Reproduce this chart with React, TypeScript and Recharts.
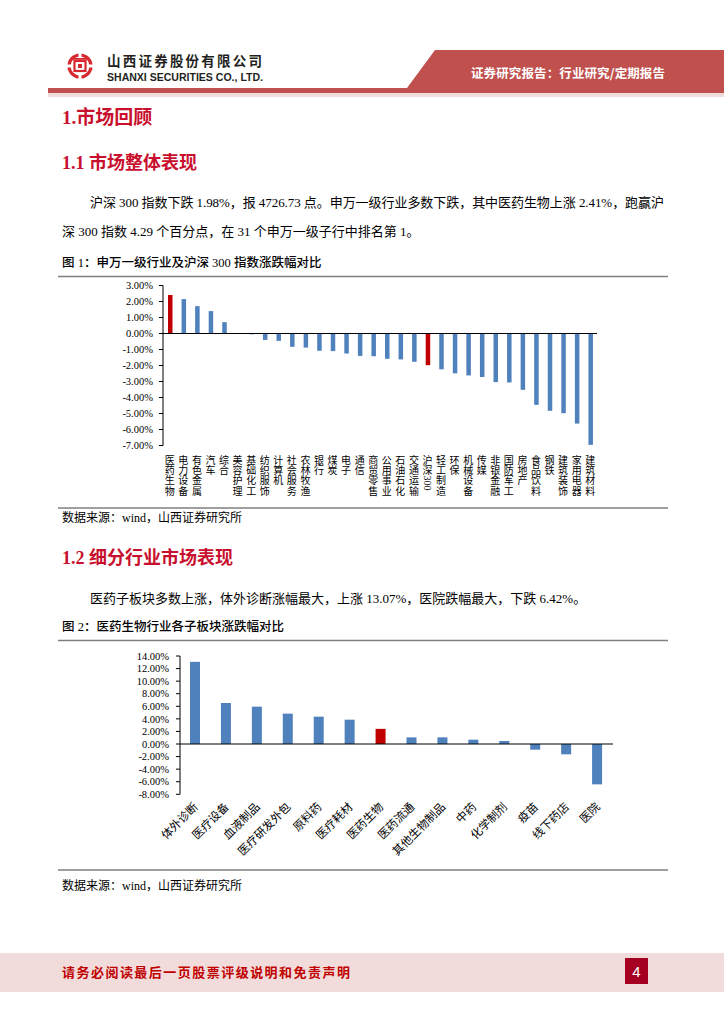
import React from 'react';
import { BarChart, Bar, XAxis, YAxis, Cell, ReferenceLine } from 'recharts';

// 图1：申万一级行业及沪深300指数涨跌幅（%）
const industryNames = [
  '医药生物', '电力设备', '有色金属', '汽车', '综合', '美容护理', '基础化工', '纺织服饰',
  '计算机', '社会服务', '农林牧渔', '银行', '煤炭', '电子', '通信', '商贸零售',
  '公用事业', '石油石化', '交通运输', '沪深300', '轻工制造', '环保', '机械设备', '传媒',
  '非银金融', '国防军工', '房地产', '食品饮料', '钢铁', '建筑装饰', '家用电器', '建筑材料',
];
const industryChange = [
  2.41, 2.15, 1.71, 1.4, 0.71, 0.02, -0.05, -0.4,
  -0.46, -0.83, -0.88, -1.08, -1.1, -1.25, -1.4, -1.42,
  -1.58, -1.62, -1.77, -1.98, -2.24, -2.49, -2.62, -2.72,
  -3.04, -3.06, -3.52, -4.46, -4.83, -4.98, -5.63, -6.96,
];
const industryTicks = [-7, -6, -5, -4, -3, -2, -1, 0, 1, 2, 3];

// 图2：医药生物行业各子板块涨跌幅（%）
const subNames = [
  '体外诊断', '医疗设备', '血液制品', '医疗研发外包', '原料药', '医疗耗材', '医药生物',
  '医药流通', '其他生物制品', '中药', '化学制剂', '疫苗', '线下药店', '医院',
];
const subChange = [13.07, 6.52, 5.94, 4.83, 4.35, 3.87, 2.41, 1.06, 1.06, 0.69, 0.48, -0.9, -1.64, -6.42];
const subTicks = [-8, -6, -4, -2, 0, 2, 4, 6, 8, 10, 12, 14];

const highlight = ['医药生物', '沪深300'];

const industryData = industryNames.map((name, i) => ({ name, value: industryChange[i] }));
const subData = subNames.map((name, i) => ({ name, value: subChange[i] }));

const BLUE = '#4F81BD';
const RED = '#C00000';
const HEAD = '#C8102E';
const SERIF = '"Liberation Serif", "Times New Roman", "Noto Sans CJK SC", serif';
const CJK = '"Noto Sans CJK SC", sans-serif';

const pct = (v: number) => `${v.toFixed(2)}%`;

// 竖排标签：汉字逐个叠放，数字横躺
const VerticalTick = (props: any) => {
  const { x, y, payload } = props;
  const parts: string[] = String(payload.value).match(/[0-9A-Za-z]+|./g) || [];
  let cy = y + 7.5;
  const nodes: React.ReactNode[] = [];
  parts.forEach((p, i) => {
    if (/^[0-9A-Za-z]+$/.test(p)) {
      nodes.push(
        <text key={i} x={0} y={0} fontSize={10} fontFamily={SERIF} fill="#000"
          transform={`translate(${x - 3.5},${cy}) rotate(90)`}>{p}</text>
      );
      cy += p.length * 5.2;
    } else {
      nodes.push(
        <text key={i} x={x} y={cy + 8.8} fontSize={10} fontFamily={CJK} fill="#000" textAnchor="middle">{p}</text>
      );
      cy += 10.3;
    }
  });
  return <g>{nodes}</g>;
};

const SlantTick = (props: any) => {
  const { x, y, payload } = props;
  return (
    <g transform={`translate(${x + 1},${y + 9}) rotate(-45)`}>
      <text x={0} y={0} textAnchor="end" dominantBaseline="middle" fontSize={11.5} fontFamily={CJK} fill="#000">
        {payload.value}
      </text>
    </g>
  );
};

const Logo = () => (
  <g>
    <circle cx={80} cy={66} r={11} fill="none" stroke="#D7282F" strokeWidth={3.2} />
    <rect x={66} y={64.5} width={28} height={3} fill="#fff" />
    <rect x={78.5} y={52} width={3} height={28} fill="#fff" />
    <rect x={74.5} y={61} width={11} height={10} fill="none" stroke="#D7282F" strokeWidth={2.2} />
    <rect x={78} y={64} width={4} height={4} fill="#D7282F" />
    <rect x={72} y={58} width={16} height={1.8} fill="#D7282F" />
  </g>
);

const Page = () => (
  <svg width={724} height={1024} style={{ position: 'absolute', left: 0, top: 0 }}>
    {/* header */}
    <Logo />
    <text x={107} y={66} fontFamily={CJK} fontWeight={700} fontSize={13.5} fill="#231F20" textLength={155} lengthAdjust="spacing">
      山西证券股份有限公司
    </text>
    <text x={107} y={80.5} fontFamily='"Liberation Sans", Arial, sans-serif' fontWeight={700} fontSize={10.5} fill="#231F20" textLength={156} lengthAdjust="spacingAndGlyphs">
      SHANXI SECURITIES CO., LTD.
    </text>
    <polygon points="435,50 724,50 724,93 48,93 48,88 407,88" fill="#C0504D" />
    <rect x={48} y={93} width={676} height={4} fill="#F2DCDB" />
    <text x={471} y={77.5} fontFamily={CJK} fontWeight={700} fontSize={12.5} fill="#fff" textLength={194} lengthAdjust="spacing">
      证券研究报告：行业研究/定期报告
    </text>

    {/* section 1 */}
    <text x={62} y={124} fontFamily={SERIF} fontWeight={700} fontSize={19} fill={HEAD}>1.市场回顾</text>
    <text x={62} y={168.5} fontFamily={SERIF} fontWeight={700} fontSize={18} fill={HEAD}>1.1 市场整体表现</text>
    <text x={90} y={206.5} fontFamily={SERIF} fontSize={13} fill="#000" textLength={574} lengthAdjust="spacing">
      沪深 300 指数下跌 1.98%，报 4726.73 点。申万一级行业多数下跌，其中医药生物上涨 2.41%，跑赢沪
    </text>
    <text x={62} y={235.5} fontFamily={SERIF} fontSize={13} fill="#000">
      深 300 指数 4.29 个百分点，在 31 个申万一级子行中排名第 1。
    </text>
    <text x={62} y={266.5} fontFamily={SERIF} fontSize={12.5} fontWeight={500} fill="#000">
      图 1：申万一级行业及沪深 300 指数涨跌幅对比
    </text>
    <line x1={58} x2={668} y1={276.5} y2={276.5} stroke="#7F7F7F" strokeWidth={1.5} />
    <line x1={58} x2={668} y1={508} y2={508} stroke="#7F7F7F" strokeWidth={1.5} />
    <text x={62} y={521.5} fontFamily={SERIF} fontSize={12} fill="#000">数据来源：wind，山西证券研究所</text>

    {/* section 1.2 */}
    <text x={62} y={563.5} fontFamily={SERIF} fontWeight={700} fontSize={18} fill={HEAD}>1.2 细分行业市场表现</text>
    <text x={90} y={602.5} fontFamily={SERIF} fontSize={13} fill="#000">
      医药子板块多数上涨，体外诊断涨幅最大，上涨 13.07%，医院跌幅最大，下跌 6.42%。
    </text>
    <text x={62} y={630.5} fontFamily={SERIF} fontSize={12.5} fontWeight={500} fill="#000">
      图 2：医药生物行业各子板块涨跌幅对比
    </text>
    <line x1={58} x2={668} y1={640.5} y2={640.5} stroke="#7F7F7F" strokeWidth={1.5} />
    <line x1={58} x2={668} y1={870} y2={870} stroke="#7F7F7F" strokeWidth={1.5} />
    <text x={62} y={889.5} fontFamily={SERIF} fontSize={12} fill="#000">数据来源：wind，山西证券研究所</text>

    {/* footer */}
    <rect x={0} y={953} width={724} height={39} fill="#F2DCDB" />
    <text x={62} y={977} fontFamily={CJK} fontWeight={700} fontSize={13} fill="#C00000" textLength={288} lengthAdjust="spacing">
      请务必阅读最后一页股票评级说明和免责声明
    </text>
    <rect x={625} y={958} width={23} height={26} fill="#A50021" />
    <text x={636.5} y={977} textAnchor="middle" fontFamily='"Liberation Sans", Arial, sans-serif' fontSize={15} fill="#fff">4</text>
  </svg>
);

const App = () => (
  <div style={{ position: 'absolute', left: 0, top: 0, width: 724, height: 1024, background: '#fff' }}>
    <Page />

    <div style={{ position: 'absolute', left: 60, top: 280 }}>
      <BarChart width={560} height={225} data={industryData} margin={{ top: 5.5, right: 23, bottom: 0, left: 0 }} barCategoryGap={0}>
        <YAxis
          width={103}
          domain={[-7, 3]}
          ticks={industryTicks}
          interval={0}
          tickFormatter={pct}
          axisLine={{ stroke: '#000' }}
          tickLine={{ stroke: '#000' }}
          tickSize={4}
          tickMargin={6}
          tick={{ fontSize: 10.5, fontFamily: SERIF, fill: '#000' }}
        />
        <XAxis
          dataKey="name"
          height={59.5}
          interval={0}
          axisLine={false}
          tickLine={false}
          tickSize={0}
          tick={<VerticalTick />}
        />
        <ReferenceLine y={0} stroke="#000" strokeWidth={1} />
        <Bar dataKey="value" barSize={4.5} isAnimationActive={false}>
          {industryData.map((d) => (
            <Cell key={d.name} fill={highlight.includes(d.name) ? RED : BLUE} />
          ))}
        </Bar>
      </BarChart>
    </div>

    <div style={{ position: 'absolute', left: 100, top: 645 }}>
      <BarChart width={540} height={215} data={subData} margin={{ top: 11, right: 27, bottom: 0, left: 0 }} barCategoryGap={0}>
        <YAxis
          width={80}
          domain={[-8, 14]}
          ticks={subTicks}
          interval={0}
          tickFormatter={pct}
          axisLine={{ stroke: '#000' }}
          tickLine={{ stroke: '#000' }}
          tickSize={4}
          tickMargin={7}
          tick={{ fontSize: 10.5, fontFamily: SERIF, fill: '#000' }}
        />
        <XAxis
          dataKey="name"
          height={65.7}
          interval={0}
          axisLine={false}
          tickLine={false}
          tickSize={0}
          tick={<SlantTick />}
        />
        <ReferenceLine y={0} stroke="#000" strokeWidth={1} />
        <Bar dataKey="value" barSize={10} isAnimationActive={false}>
          {subData.map((d) => (
            <Cell key={d.name} fill={d.name === '医药生物' ? RED : BLUE} />
          ))}
        </Bar>
      </BarChart>
    </div>
  </div>
);

export default App;
